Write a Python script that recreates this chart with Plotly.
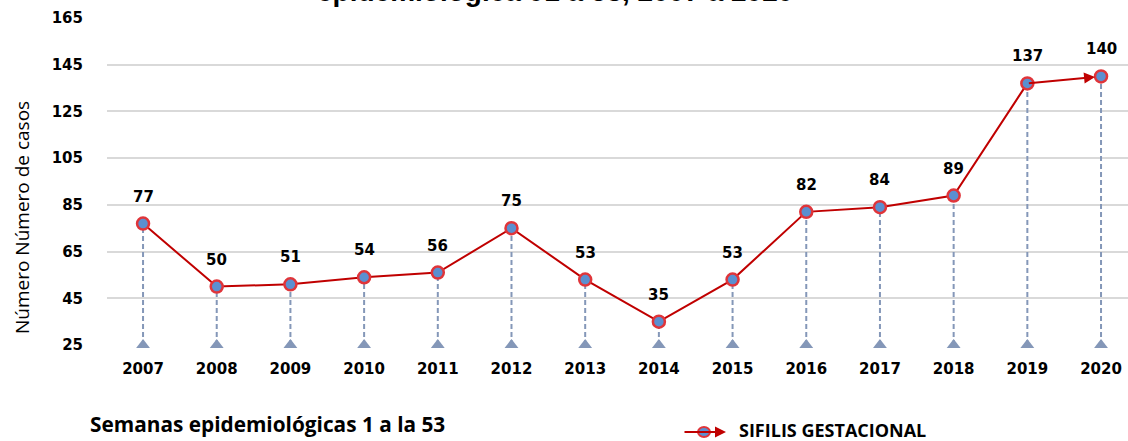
import plotly.graph_objects as go

years = [2007, 2008, 2009, 2010, 2011, 2012, 2013, 2014, 2015, 2016, 2017, 2018, 2019, 2020]
casos = [77, 50, 51, 54, 56, 75, 53, 35, 53, 82, 84, 89, 137, 140]
y_ticks = [25, 45, 65, 85, 105, 125, 145, 165]
series_name = "SIFILIS GESTACIONAL"
title_text = "epidemiológica 01 a 53, 2007 a 2020"
y_title = "Número Número de casos"
x_title = "Semanas epidemiológicas 1 a la 53"

BASE = y_ticks[0]
RED = "#c00000"
BLUE = "#5b8fd0"
DROP = "#8497b8"
TICKFONT = dict(family="DejaVu Sans", size=15, color="#000000")

L, R, T, B = 107, 0, 18, 96
W, H = 1128, 441
PW, PH = W - L - R, H - T - B

def px(xp):
    return (xp - L) / PW

def py(yp):
    return (H - B - yp) / PH

fig = go.Figure()

# drop lines
dx, dy = [], []
for x, y in zip(years, casos):
    dx += [x, x, None]
    dy += [BASE, y, None]
fig.add_trace(go.Scatter(x=dx, y=dy, mode="lines",
                         line=dict(color=DROP, width=2, dash="5px,3px"),
                         hoverinfo="skip", showlegend=False))
# triangles at baseline
fig.add_trace(go.Scatter(x=years, y=[BASE] * len(years), mode="markers",
                         marker=dict(symbol="triangle-up", size=12, color=DROP),
                         hoverinfo="skip", showlegend=False, cliponaxis=False))
# main line (all but last segment)
fig.add_trace(go.Scatter(x=years[:-1], y=casos[:-1], mode="lines",
                         line=dict(color=RED, width=2),
                         showlegend=False))
# markers
fig.add_trace(go.Scatter(x=years, y=casos, mode="markers", name=series_name,
                         marker=dict(symbol="circle", size=12, color=BLUE,
                                     line=dict(color="#e0353a", width=2.5)),
                         showlegend=False, cliponaxis=False))

annotations = []
# last segment as arrow
annotations.append(dict(x=years[-1], y=casos[-1], ax=years[-2], ay=casos[-2],
                        xref="x", yref="y", axref="x", ayref="y",
                        showarrow=True, arrowhead=2, arrowsize=1.1, arrowwidth=2,
                        arrowcolor=RED, standoff=6, text=""))
# data labels
for x, y in zip(years, casos):
    annotations.append(dict(x=x, y=y, xref="x", yref="y", text=f"<b>{y}</b>",
                            showarrow=False, yshift=27,
                            font=dict(family="DejaVu Sans", size=15, color="#000")))
# title (cut off at top)
annotations.append(dict(x=px(555), y=py(9), xref="paper", yref="paper",
                        xanchor="center", yanchor="bottom", showarrow=False,
                        text=f"<b>{title_text}</b>",
                        font=dict(family="Liberation Sans", size=28, color="#000")))
# y-axis title
annotations.append(dict(x=px(22), y=py(218), xref="paper", yref="paper",
                        xanchor="center", yanchor="middle", showarrow=False,
                        textangle=-90, text=y_title,
                        font=dict(family="Open Sans", size=19, color="#000")))
# x-axis bottom label
annotations.append(dict(x=px(88), y=py(424), xref="paper", yref="paper",
                        xanchor="left", yanchor="middle", showarrow=False,
                        text=f"<b>{x_title}</b>",
                        font=dict(family="Open Sans", size=20.8, color="#000")))
# legend
annotations.append(dict(x=px(737), y=py(430), xref="paper", yref="paper",
                        xanchor="left", yanchor="middle", showarrow=False,
                        text=f"<b>{series_name}</b>",
                        font=dict(family="Open Sans", size=18, color="#000")))
annotations.append(dict(x=px(726), y=py(432), ax=-43, ay=0,
                        xref="paper", yref="paper", axref="pixel", ayref="pixel",
                        showarrow=True, arrowhead=2, arrowsize=1.1, arrowwidth=2,
                        arrowcolor=RED, text=""))

shapes = [dict(type="circle", xref="paper", yref="paper",
               xsizemode="pixel", ysizemode="pixel",
               xanchor=px(704), yanchor=py(432),
               x0=-6, x1=6, y0=-5, y1=5,
               fillcolor=BLUE, line=dict(color="#e0353a", width=2))]

fig.update_layout(
    width=W, height=H,
    margin=dict(l=L, r=R, t=T, b=B),
    paper_bgcolor="white", plot_bgcolor="white",
    annotations=annotations, shapes=shapes,
    showlegend=False,
    xaxis=dict(range=[2006.511, 2020.366], tickvals=years,
               ticktext=[f"<b>{y}</b>" for y in years],
               tickfont=TICKFONT, showgrid=False, zeroline=False,
               ticks="outside", ticklen=10, tickcolor="rgba(0,0,0,0)",
               showline=False),
    yaxis=dict(range=[y_ticks[0], y_ticks[-1]], tickvals=y_ticks,
               ticktext=[f"<b>{v}</b>" for v in y_ticks],
               tickfont=TICKFONT, showgrid=True, gridcolor="#d9d9d9",
               gridwidth=1.5, zeroline=False, ticks="outside", ticklen=20,
               tickcolor="rgba(0,0,0,0)", showline=False),
)

fig.write_html("out.html", config={"displayModeBar": False},
               post_script="document.body.style.margin='0';document.body.style.padding='0';document.body.style.overflow='hidden';")
